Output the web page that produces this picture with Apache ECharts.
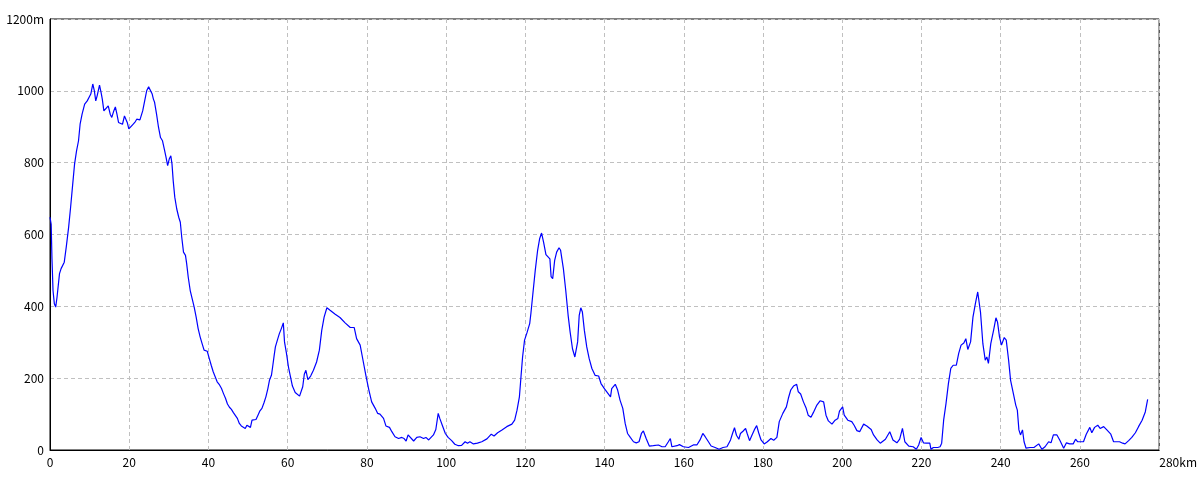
<!DOCTYPE html>
<html>
<head>
<meta charset="utf-8">
<script src="https://cdn.jsdelivr.net/npm/echarts@6/dist/echarts.min.js"></script>
<style>
html,body{margin:0;padding:0;background:#fff;}
#chart{width:1200px;height:480px;}
</style>
</head>
<body>
<div id="chart"></div>
<script>
// Distance along the route (km)
const distanceKm = [
0.0,0.3,0.5,0.76,1.1,1.44,1.78,2.4,2.8,3.6,4.1,4.7,5.2,5.7,6.2,6.7,7.2,7.6,8.1,8.75,9.4,9.9,10.3,10.8,11.2,11.55,11.9,12.5,12.9,13.2,13.6,14.1,14.7,15.2,15.6,16.1,16.5,16.9,17.3,17.8,18.3,18.8,19.2,19.5,19.9,20.4,20.9,21.4,21.9,22.4,22.7,23.1,23.4,23.9,24.4,24.9,25.3,25.8,26.1,26.4,26.9,27.4,27.9,28.4,28.86,29.3,29.7,30.1,30.5,30.8,31.1,31.5,32.0,32.5,32.9,33.25,33.7,34.2,34.5,34.9,35.4,35.9,36.4,36.9,37.4,37.9,38.4,38.9,39.4,39.7,40.2,40.7,41.2,41.7,42.2,42.7,43.3,43.8,44.3,44.8,45.3,45.8,46.3,46.8,47.3,47.8,48.3,48.8,49.3,49.7,50.2,50.6,51.0,51.5,52.0,52.5,53.0,53.5,54.0,54.5,55.0,55.4,55.9,56.2,56.6,56.9,57.4,57.9,58.4,58.9,59.2,59.7,60.2,60.7,61.2,61.9,62.4,63.0,63.8,64.2,64.6,65.1,65.8,66.5,67.3,68.0,68.6,69.2,69.9,70.7,72.0,73.2,74.5,75.8,76.8,77.4,78.3,79.1,79.8,80.5,81.2,82.1,82.7,83.3,84.2,84.8,85.7,86.3,87.1,88.0,88.8,89.4,89.9,90.4,90.9,91.8,92.6,93.4,94.3,94.9,95.6,96.1,96.8,97.4,98.0,98.4,99.1,99.8,100.5,101.4,102.2,103.1,103.9,104.8,105.4,106.0,106.9,107.9,109.0,110.3,111.4,112.1,113.0,114.1,115.3,116.6,117.3,117.9,118.5,118.9,119.3,119.8,120.4,121.1,121.4,121.9,122.5,123.1,123.6,124.1,124.6,125.2,125.7,126.2,126.5,126.9,127.4,127.9,128.5,128.9,129.6,130.2,130.8,131.3,131.9,132.5,133.2,133.6,134.0,134.4,134.9,135.5,136.1,136.8,137.6,138.5,139.1,140.0,141.5,141.8,142.7,143.3,143.9,144.6,145.2,145.8,146.5,147.3,148.0,148.7,149.3,149.8,150.5,151.3,152.3,153.6,154.5,155.3,156.1,156.6,157.0,158.3,158.9,159.9,161.2,162.4,163.3,164.1,164.8,165.4,166.1,166.9,167.9,168.9,169.9,170.9,171.8,172.3,172.8,173.3,173.9,174.3,175.0,175.6,176.0,176.6,177.2,177.8,178.4,178.9,179.5,180.3,181.1,182.0,182.7,183.5,184.1,185.0,185.9,186.4,187.0,187.7,188.5,188.9,189.5,190.2,190.9,191.4,192.1,192.7,193.6,194.4,195.3,195.9,196.5,197.4,198.2,198.9,199.3,200.1,200.5,201.4,202.4,203.0,203.7,204.4,205.4,206.2,207.3,207.9,208.8,209.6,210.9,212.0,212.8,213.8,214.5,215.2,215.8,216.8,217.9,218.7,219.3,219.9,220.5,221.2,222.1,222.4,223.0,224.1,224.7,225.1,225.6,226.2,226.8,227.4,228.0,228.8,229.4,230.0,230.7,231.2,231.7,232.4,233.0,233.6,234.2,234.9,235.5,236.1,236.5,236.9,237.5,238.2,238.8,239.2,239.7,240.2,240.9,241.4,242.0,242.5,243.2,243.8,244.2,244.6,245.0,245.5,245.9,246.4,247.4,248.4,248.9,249.6,250.4,251.2,252.1,252.7,253.3,254.2,254.9,255.9,256.6,257.4,258.3,258.9,259.4,260.9,261.6,262.5,263.0,263.7,264.5,265.1,266.0,266.8,267.8,268.5,270.0,270.8,271.4,272.3,273.1,274.0,274.8,275.7,276.5,277.1
];
// Elevation (m)
const elevationM = [
648,628,532,444,407,398,426,491,505,523,565,620,676,736,796,833,861,907,935,963,972,968,991,1019,1000,972,986,1016,995,977,944,946,958,935,926,944,955,935,912,912,907,930,935,912,894,894,906,912,921,926,919,921,944,972,1000,1011,1007,991,977,968,935,898,870,861,838,815,792,810,819,796,750,704,671,648,634,593,551,542,519,481,444,421,398,370,338,315,296,278,273,275,255,236,218,204,190,183,171,157,144,128,119,113,104,99,88,74,67,63,60,69,67,63,83,88,85,97,109,116,131,148,171,194,208,231,264,287,306,324,338,354,301,269,231,204,178,160,157,150,176,211,222,196,206,222,245,278,333,370,396,389,378,369,354,341,341,310,292,245,204,167,134,116,102,100,88,67,63,51,37,32,35,32,25,42,37,25,35,37,32,35,28,28,42,57,102,88,67,46,35,26,16,12,13,23,19,23,17,19,23,31,44,39,48,56,65,72,83,111,148,204,259,306,326,352,380,435,500,556,588,604,579,544,546,532,483,477,528,551,563,556,505,444,375,329,282,259,301,375,396,384,333,287,255,227,208,206,185,170,148,171,183,167,139,116,74,46,35,23,20,23,46,53,32,11,12,14,9,9,23,32,9,12,15,9,7,14,14,28,46,37,25,11,7,2,7,9,28,46,62,41,30,46,53,60,46,26,41,56,68,48,28,17,23,32,27,35,79,102,120,144,167,178,183,162,156,134,116,97,91,104,125,137,134,97,81,72,83,88,108,120,97,83,79,69,54,51,72,67,57,42,28,19,30,51,28,20,30,60,23,11,9,2,14,35,20,19,19,2,7,7,9,19,83,130,185,227,236,236,269,292,298,310,280,301,370,407,440,384,296,250,259,241,296,333,368,356,315,292,313,306,250,194,157,125,111,56,42,56,23,5,7,7,5,17,2,9,23,20,42,42,28,5,20,17,17,30,23,23,44,63,48,63,69,60,65,56,44,23,23,19,17,26,35,48,65,83,106,141
];
// Axis ticks
const xTicks = [0,20,40,60,80,100,120,140,160,180,200,220,240,260,280];
const yTicks = [0,200,400,600,800,1000,1200];

const points = distanceKm.map((d, i) => [d, elevationM[i]]);
const FONT = "'Noto Sans CJK JP', 'Liberation Sans', sans-serif";

const chart = echarts.init(document.getElementById('chart'), null, {renderer: 'canvas'});
chart.setOption({
  animation: false,
  backgroundColor: '#ffffff',
  grid: {left: 50, right: 40, top: 19, bottom: 30, show: true, borderColor: '#000', borderWidth: 1, backgroundColor: 'transparent'},
  xAxis: {
    type: 'value',
    min: xTicks[0], max: xTicks[xTicks.length - 1], interval: 20,
    axisLine: {show: true, lineStyle: {color: '#000', width: 1}},
    axisTick: {show: false},
    axisLabel: {
      color: '#000', fontSize: 12, fontFamily: FONT, margin: 6,
      formatter: v => v === 280 ? '{u|280km}' : String(v),
      rich: {u: {color: '#000', fontSize: 12, fontFamily: FONT, padding: [0, 0, 0, 38]}}
    },
    splitLine: {show: true, lineStyle: {color: '#c0c0c0', type: [4, 3], width: 1}}
  },
  yAxis: {
    type: 'value',
    min: yTicks[0], max: yTicks[yTicks.length - 1], interval: 200,
    axisLine: {show: true, lineStyle: {color: '#000', width: 1}},
    axisTick: {show: false},
    axisLabel: {
      color: '#000', fontSize: 12, fontFamily: FONT, margin: 6,
      formatter: v => v === 1200 ? '1200m' : String(v)
    },
    splitLine: {show: true, lineStyle: {color: '#c0c0c0', type: [4, 3], width: 1}}
  },
  series: [{
    type: 'line',
    data: points,
    showSymbol: false,
    symbol: 'none',
    lineStyle: {color: '#0000ff', width: 1.2},
    silent: true
  }]
});
</script>
</body>
</html>
